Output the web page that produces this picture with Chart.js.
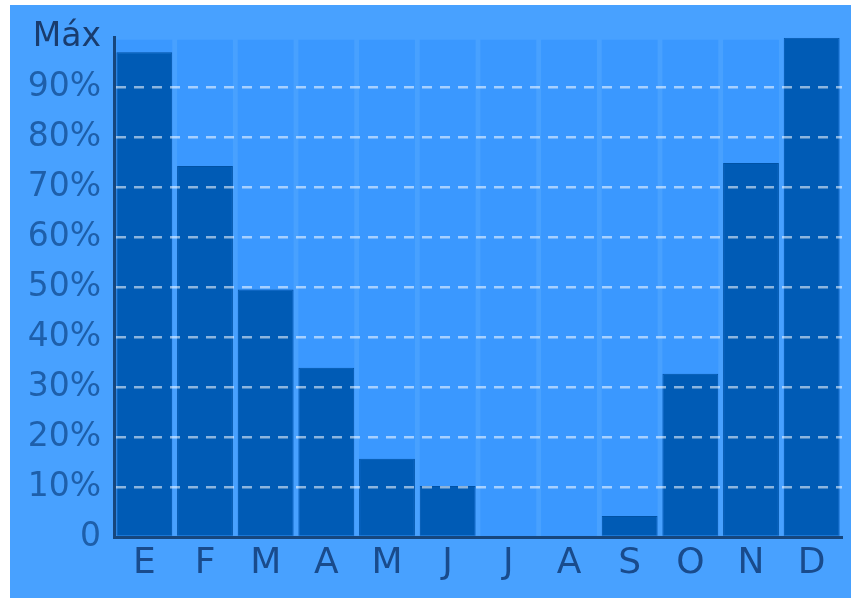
<!DOCTYPE html>
<html>
<head>
<meta charset="utf-8">
<script src="https://cdn.jsdelivr.net/npm/chart.js@4"></script>
<style>
    html, body { margin: 0; padding: 0; background: #ffffff; }
    #wrap { position: absolute; left: 10px; top: 5px; width: 841px; height: 593px; background: rgb(72, 161, 255); }
</style>
</head>
<body>
<div id="wrap"><canvas id="myBarChart" width="841" height="593"></canvas></div>
<script>
const months = ['E', 'F', 'M', 'A', 'M', 'J', 'J', 'A', 'S', 'O', 'N', 'D'];
const values = [97.1, 74.3, 49.6, 33.9, 15.7, 10.2, 0, 0, 4.2, 32.7, 74.9, 100];
const yTicks = [0, 10, 20, 30, 40, 50, 60, 70, 80, 90, 100];

const barColor = 'rgb(0, 91, 181)';
const columnColor = 'rgb(58, 152, 255)';
const axisColor = 'rgb(22, 70, 125)';
const font = 'DejaVu Sans';

// light columns behind every month, full chart height
const columnsBehind = {
    id: 'columnsBehind',
    beforeDatasetsDraw(chart) {
        const { ctx, chartArea } = chart;
        const meta = chart.getDatasetMeta(0);
        ctx.save();
        ctx.fillStyle = columnColor;
        meta.data.forEach((bar) => {
            const w = bar.width;
            ctx.fillRect(bar.x - w / 2, chartArea.top + 2, w, chartArea.bottom - chartArea.top - 2);
        });
        ctx.restore();
    }
};

const config = {
    type: 'bar',
    data: {
        labels: months,
        datasets: [{
            label: 'Máx',
            data: values,
            backgroundColor: barColor,
            borderColor: 'rgb(0, 82, 165)',
            borderWidth: 1,
            barPercentage: 0.92,
            categoryPercentage: 1
        }]
    },
    options: {
        responsive: false,
        animation: false,
        layout: { padding: { top: 30, right: 9, left: 0, bottom: 0 } },
        plugins: {
            legend: { display: false },
            tooltip: { enabled: false }
        },
        scales: {
            x: {
                grid: { display: false, drawTicks: false },
                border: { display: true, color: axisColor, width: 3, z: 1 },
                ticks: {
                    color: 'rgb(25, 75, 140)',
                    font: { family: font, size: 36 },
                    padding: 5
                },
                afterFit(scale) { scale.height = 61; }
            },
            y: {
                min: 0,
                max: 100,
                afterBuildTicks(scale) {
                    scale.ticks = yTicks.map(v => ({ value: v }));
                },
                grid: {
                    z: 1,
                    drawTicks: false,
                    lineWidth: 2.5,
                    color: (ctx) => (ctx.tick && (ctx.tick.value === 0 || ctx.tick.value === 100))
                        ? 'rgba(0,0,0,0)' : 'rgba(255, 255, 255, 0.55)'
                },
                border: { display: true, color: axisColor, width: 3, dash: [10, 8], z: 1 },
                ticks: {
                    padding: 13,
                    font: { family: font, size: 33 },
                    color: (ctx) => ctx.tick && ctx.tick.value === 100 ? 'rgb(25, 60, 110)' : 'rgb(30, 95, 170)',
                    callback: (v) => v === 100 ? 'Máx' : (v === 0 ? '0' : v + '%')
                },
                afterFit(scale) { scale.width = 104; }
            }
        }
    },
    plugins: [columnsBehind]
};

new Chart(document.querySelector('#myBarChart'), config);
</script>
</body>
</html>
